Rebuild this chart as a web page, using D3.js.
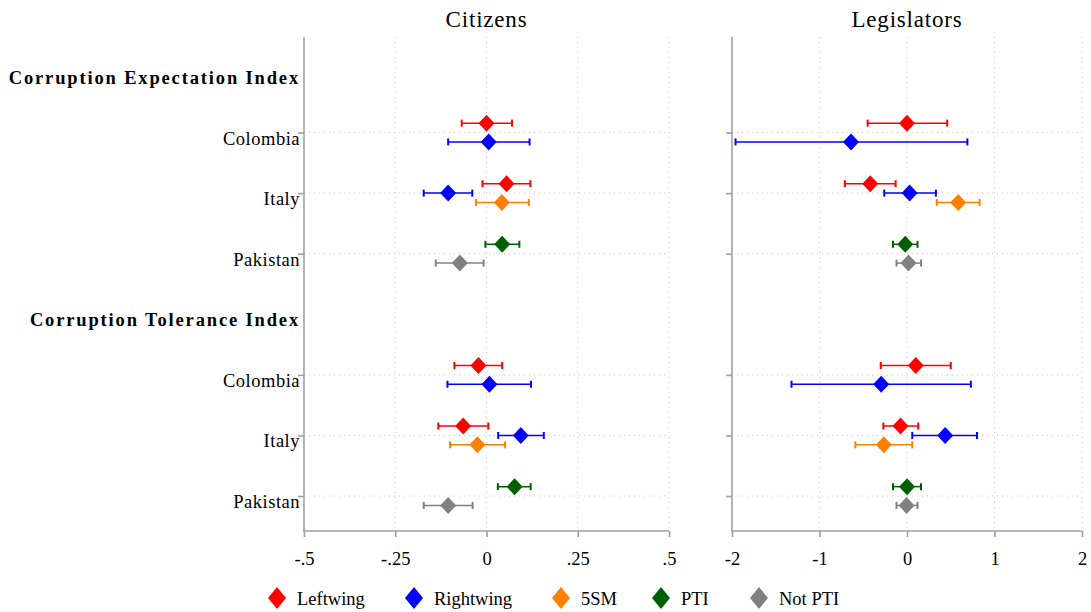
<!DOCTYPE html>
<html lang="en">
  <head>
    <meta charset="utf-8">
    <title>Corruption indices: citizens vs legislators</title>
    <script src="https://cdnjs.cloudflare.com/ajax/libs/d3/7.8.5/d3.min.js"></script>
    <style type="text/css">
      body { margin: 0; background: #fff; }
      text { font-family: 'Liberation Serif', 'Times New Roman', serif; fill: #000; }
      .label { font-size: 18.5px; letter-spacing: 0.5px; }
      .header { font-size: 18.5px; font-weight: bold; letter-spacing: 1.85px; }
      .title { font-size: 23px; letter-spacing: 0.8px; }
      .tick text { font-size: 18.5px; }
      .legend { font-size: 18.5px; }
      .grid { stroke: #c8c8c8; stroke-width: 1; stroke-dasharray: 1,4; }
    </style>
  </head>
  <body>
    <svg id="chart"></svg>
    <script type="text/javascript">
// data
var panels = ["Citizens", "Legislators"];
var indexNames = ["Corruption Expectation Index", "Corruption Tolerance Index"];
var countries = ["Colombia", "Italy", "Pakistan"];
var groups = ["Leftwing", "Rightwing", "5SM", "PTI", "Not PTI"];
var groupColors = ["#ff0000", "#0000ff", "#ff8000", "#006000", "#808080"];
var countryGroups = [["Leftwing", "Rightwing"], ["Leftwing", "Rightwing", "5SM"], ["PTI", "Not PTI"]];
var citizensTicks = [-0.5, -0.25, 0, 0.25, 0.5];
var legislatorsTicks = [-2, -1, 0, 1, 2];

// [estimate, lower, upper] in order: Colombia L,R / Italy L,R,5SM / Pakistan PTI,NotPTI
var citizensExpectation = [[0.000, -0.068, 0.070], [0.006, -0.105, 0.118],
  [0.055, -0.011, 0.120], [-0.105, -0.172, -0.039], [0.042, -0.029, 0.116],
  [0.043, -0.003, 0.090], [-0.073, -0.139, -0.008]];
var citizensTolerance = [[-0.022, -0.088, 0.043], [0.008, -0.107, 0.122],
  [-0.064, -0.132, 0.005], [0.094, 0.032, 0.157], [-0.025, -0.100, 0.051],
  [0.077, 0.031, 0.121], [-0.105, -0.172, -0.038]];
var legislatorsExpectation = [[0.00, -0.45, 0.46], [-0.64, -1.96, 0.69],
  [-0.42, -0.71, -0.13], [0.03, -0.26, 0.33], [0.585, 0.34, 0.83],
  [-0.02, -0.16, 0.12], [0.017, -0.12, 0.16]];
var legislatorsTolerance = [[0.10, -0.30, 0.50], [-0.295, -1.32, 0.73],
  [-0.074, -0.27, 0.128], [0.436, 0.06, 0.80], [-0.265, -0.59, 0.06],
  [0.00, -0.16, 0.16], [-0.005, -0.12, 0.12]];

var w = 1091, h = 612;
var plotTop = 37, plotBottom = 531;
var axisColor = "#a0a0a0";

var svg = d3.select("#chart").attr("width", w).attr("height", h);

// rows: header, 3 countries, header, 3 countries
var rows = [];
indexNames.forEach(function(name, k) {
  rows.push({ label: name, header: true, index: k });
  countries.forEach(function(c) { rows.push({ label: c, header: false, index: k }); });
});
var yScale = d3.scaleLinear().domain([-0.577, rows.length - 1 + 0.577]).range([plotTop, plotBottom]);
var offsetStep = 0.155;

function buildPoints(expect, toler) {
  var pts = [];
  [expect, toler].forEach(function(series, k) {
    var n = 0;
    countries.forEach(function(c, ci) {
      var gs = countryGroups[ci];
      var row = k * 4 + 1 + ci;
      gs.forEach(function(g, gi) {
        var off = gs.length === 2 ? (gi === 0 ? -1 : 1) : gi - 1;
        var v = series[n++];
        pts.push({ group: g, pos: row + off * offsetStep, est: v[0], lo: v[1], hi: v[2] });
      });
    });
  });
  return pts;
}

var panelDefs = [
  { title: panels[0], range: [304, 669], domain: [-0.5, 0.5], ticks: citizensTicks,
    fmt: function(d) { return d === 0 ? "0" : String(d).replace("0.", "."); },
    points: buildPoints(citizensExpectation, citizensTolerance), labels: true },
  { title: panels[1], range: [732, 1082], domain: [-2, 2], ticks: legislatorsTicks,
    fmt: function(d) { return String(d); },
    points: buildPoints(legislatorsExpectation, legislatorsTolerance), labels: false }
];

var color = d3.scaleOrdinal().domain(groups).range(groupColors);
var diamond = function(hw, hh) {
  return "M0," + (-hh) + "L" + hw + ",0L0," + hh + "L" + (-hw) + ",0Z";
};

panelDefs.forEach(function(p) {
  var xScale = d3.scaleLinear().domain(p.domain).range(p.range);
  var g = svg.append("g");
  var countryRows = d3.range(rows.length).filter(function(i) { return !rows[i].header; });

  // gridlines
  g.selectAll(".vgrid").data(p.ticks.slice(1)).enter().append("line")
    .attr("class", "grid")
    .attr("x1", function(d) { return xScale(d); }).attr("x2", function(d) { return xScale(d); })
    .attr("y1", plotTop).attr("y2", plotBottom);
  g.selectAll(".hgrid").data(countryRows).enter().append("line")
    .attr("class", "grid")
    .attr("x1", p.range[0]).attr("x2", p.range[1])
    .attr("y1", function(d) { return yScale(d); }).attr("y2", function(d) { return yScale(d); });

  // axes
  var xAxis = d3.axisBottom(xScale).tickValues(p.ticks).tickFormat(p.fmt)
    .tickSize(6).tickSizeOuter(0).tickPadding(15);
  var gx = g.append("g").attr("transform", "translate(0," + plotBottom + ")").call(xAxis);
  var yAxis = d3.axisLeft(yScale).tickValues(countryRows).tickFormat("")
    .tickSize(6).tickSizeOuter(0);
  var gy = g.append("g").attr("transform", "translate(" + p.range[0] + ",0)").call(yAxis);
  [gx, gy].forEach(function(a) {
    a.selectAll("path, line").attr("stroke", axisColor).attr("stroke-width", 1.6);
    a.selectAll("text").attr("font-family", null).attr("font-size", null).attr("fill", "#000");
  });
  gx.select(".domain").attr("d", "M" + (p.range[0] - 0.8) + ",0H" + p.range[1]);
  gy.select(".domain").attr("d", "M0," + plotTop + "V" + (plotBottom + 0.8));

  // panel title
  g.append("text").attr("class", "title")
    .attr("x", (p.range[0] + p.range[1]) / 2).attr("y", 27)
    .attr("text-anchor", "middle").text(p.title);

  // row labels
  if (p.labels) {
    g.selectAll(".rowlab").data(rows).enter().append("text")
      .attr("class", function(d) { return d.header ? "header" : "label"; })
      .attr("x", 300).attr("y", function(d, i) { return yScale(i) + 12; })
      .attr("text-anchor", "end")
      .text(function(d) { return d.label; });
  }

  // confidence intervals
  var ci = g.selectAll(".ci").data(p.points).enter().append("g")
    .attr("stroke", function(d) { return color(d.group); })
    .attr("stroke-width", 1.5);
  ci.append("line")
    .attr("x1", function(d) { return xScale(d.lo); }).attr("x2", function(d) { return xScale(d.hi); })
    .attr("y1", function(d) { return yScale(d.pos); }).attr("y2", function(d) { return yScale(d.pos); });
  ["lo", "hi"].forEach(function(k) {
    ci.append("line")
      .attr("x1", function(d) { return xScale(d[k]); }).attr("x2", function(d) { return xScale(d[k]); })
      .attr("y1", function(d) { return yScale(d.pos) - 3.5; })
      .attr("y2", function(d) { return yScale(d.pos) + 3.5; })
      .attr("stroke-width", 2);
  });

  // point estimates
  g.selectAll(".pt").data(p.points).enter().append("path")
    .attr("d", diamond(8, 8.5))
    .attr("transform", function(d) { return "translate(" + xScale(d.est) + "," + yScale(d.pos) + ")"; })
    .attr("fill", function(d) { return color(d.group); });
});

// legend
var legendX = [277, 414, 561, 661, 759];
var legend = svg.selectAll(".leg").data(groups).enter().append("g")
  .attr("transform", function(d, i) { return "translate(" + legendX[i] + ",598)"; });
legend.append("path").attr("d", diamond(9, 11)).attr("fill", function(d) { return color(d); });
legend.append("text").attr("class", "legend").attr("x", 20).attr("y", 7).text(function(d) { return d; });
    </script>
  </body>
</html>
